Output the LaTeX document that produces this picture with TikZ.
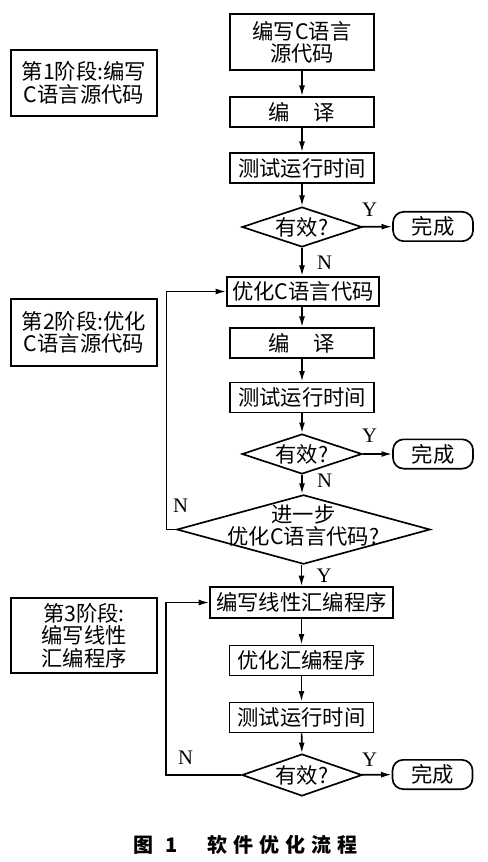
\documentclass[tikz,border=0pt]{standalone}
\usepackage{fontspec}
\setmainfont{Liberation Serif}
\newfontfamily\cjk{Noto Sans CJK SC}
\usepackage{tikz}
\usetikzlibrary{shapes,arrows.meta}

\begin{document}
\begin{tikzpicture}[x=0.75pt,y=0.75pt,yscale=-1,xscale=1,>={Latex[length=8pt,width=4.5pt]},
  box/.style={draw,line width=1.25pt,minimum width=108pt,minimum height=22.5pt,inner sep=0pt,align=center,font=\cjk\fontsize{16}{16.5}\selectfont},
  dec/.style={diamond,aspect=3,draw,line width=1.25pt,minimum width=90pt,minimum height=30pt,inner sep=0pt,font=\cjk\fontsize{16}{16.5}\selectfont},
  done/.style={draw,line width=1.25pt,rounded corners=8pt,minimum width=60pt,minimum height=22pt,inner sep=0pt,font=\cjk\fontsize{16}{16.5}\selectfont},
  stage/.style={draw,line width=1.25pt,minimum width=109.5pt,inner sep=0pt,align=center,font=\cjk\fontsize{16}{16.8}\selectfont},
  lbl/.style={inner sep=0pt,font=\fontsize{15.5}{16}\selectfont},
  arr/.style={->,line width=1.25pt}]
\useasboundingbox (0,0) rectangle (487,862);

%stage boxes
\node [stage,minimum height=49.5pt] (s1) at (84,83) {第1阶段:编写\\C语言源代码};
\node [stage,minimum height=50pt] (s2) at (84,332.5) {第2阶段:优化\\C语言源代码};
\node [stage,minimum height=56pt] (s3) at (84,635.5) {第3阶段:\\编写线性\\汇编程序};

%stage 1
\node [box,minimum height=42pt] (src) at (302,42) {编写C语言\\源代码};
\node [box] (cmp1) at (302,112) {编\hspace{1.1em}译};
\node [box] (run1) at (302,168) {测试运行时间};
\node [dec] (ok1) at (302,227) {有效?};
\node [done] (end1) at (433,226.5) {完成};

%stage 2
\node [box,minimum width=114pt,minimum height=22pt] (optc) at (303,291.5) {优化C语言代码};
\node [box] (cmp2) at (302,343) {编\hspace{1.1em}译};
\node [box] (run2) at (302,397.5) {测试运行时间};
\node [dec] (ok2) at (302,454) {有效?};
\node [done] (end2) at (433,454) {完成};
\node [dec,minimum width=190pt,minimum height=52pt] (more) at (303.5,529.5)
  {\smash{\makebox[0pt]{\raisebox{-3pt}{\begin{tabular}{@{}c@{}}进一步\\[-1.5pt]优化C语言代码?\end{tabular}}}}};

%stage 3
\node [box,minimum width=137pt,minimum height=23pt] (asm) at (301.5,602.5) {编写线性汇编程序};
\node [box] (opta) at (301.5,660.5) {优化汇编程序};
\node [box] (run3) at (301.5,717.5) {测试运行时间};
\node [dec,minimum height=31.5pt] (ok3) at (302,775) {有效?};
\node [done] (end3) at (432.5,774.5) {完成};

%connectors
\draw [arr] (src) -- (cmp1);
\draw [arr] (cmp1) -- (run1);
\draw [arr] (run1) -- (ok1);
\draw [arr] (ok1) -- (end1);
\draw [arr] (ok1) -- (optc.north -| ok1);
\draw [arr] (optc.south -| cmp2) -- (cmp2);
\draw [arr] (cmp2) -- (run2);
\draw [arr] (run2) -- (ok2);
\draw [arr] (ok2) -- (end2);
\draw [arr] (ok2) -- (more.north -| ok2);
\draw [arr] (more.west) -- ++(-9.5,0) |- (optc.west);
\draw [arr] (more.south -| asm) -- (asm);
\draw [arr] (asm) -- (opta);
\draw [arr] (opta) -- (run3);
\draw [arr] (run3) -- (ok3);
\draw [arr] (ok3) -- (end3);
\draw [arr] (ok3.west) -- ++(-75,0) |- (asm.west);

% Text Node
\node [lbl] (y1) at (369.5,210) {Y};
\node [lbl] (n1) at (324.5,263) {N};
\node [lbl] (y2) at (369.5,435.5) {Y};
\node [lbl] (n2) at (324.5,480.5) {N};
\node [lbl] (n3) at (180.5,505.5) {N};
\node [lbl] (y3) at (324,576) {Y};
\node [lbl] (y4) at (369.5,760) {Y};
\node [lbl] (n4) at (185.5,757.5) {N};

%caption
\node [anchor=west,inner sep=0pt,font=\cjk\bfseries\fontsize{15}{16}\selectfont] (cap) at (133,845) {图\hspace{0.6em}1\hspace{1.5em}软\hspace{0.3em}件\hspace{0.3em}优\hspace{0.3em}化\hspace{0.3em}流\hspace{0.3em}程};

\end{tikzpicture}
\end{document}
